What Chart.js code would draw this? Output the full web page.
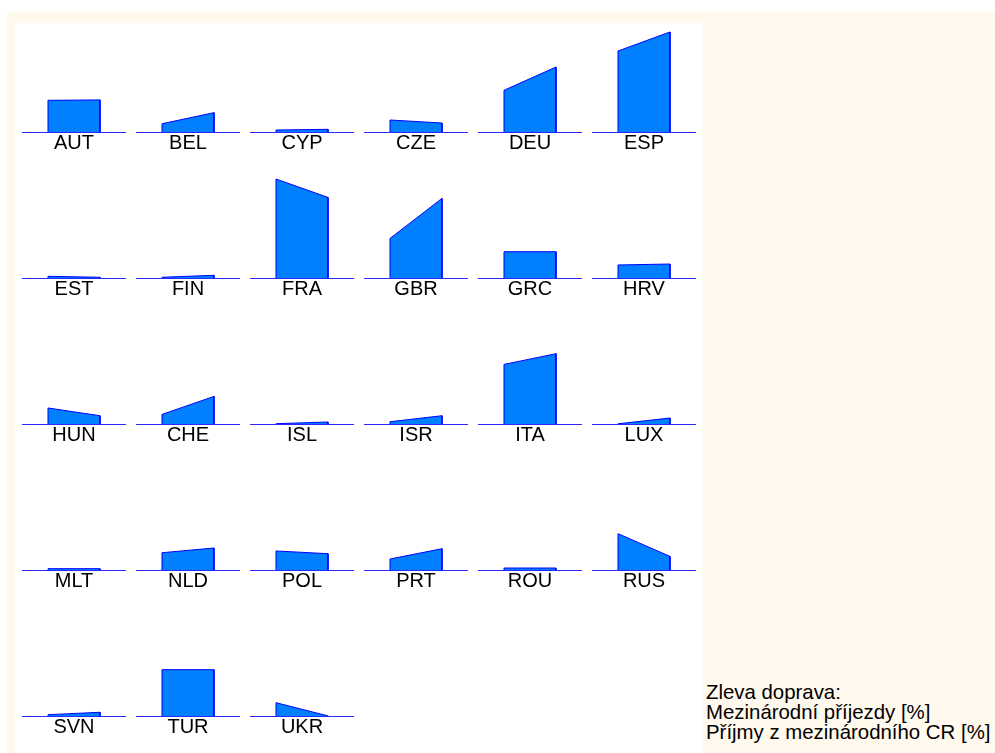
<!DOCTYPE html>
<html>
<head>
<meta charset="utf-8">
<script src="https://cdn.jsdelivr.net/npm/chart.js@4.4.1/dist/chart.umd.min.js"></script>
<style>
  body { margin: 0; background: #fff; width: 995px; height: 753px; overflow: hidden; position: relative; font-family: "Liberation Sans", Arial, sans-serif; }
  #frame { position: absolute; left: 7px; top: 12px; right: 0; bottom: 0; background: #fff9ee; }
  #panel { position: absolute; left: 15px; top: 23px; width: 688px; bottom: 0; background: #fff; }
  .cell { position: absolute; }
  #note { position: absolute; left: 706px; top: 683px; font-size: 20.4px; line-height: 19.8px; color: #000; white-space: nowrap; }
</style>
</head>
<body>
<div id="frame"></div>
<div id="panel"></div>
<div id="note">Zleva doprava:<br>Mezinárodní příjezdy [%]<br>Příjmy z mezinárodního CR [%]</div>
<script>
// country codes, in reading order (6 per row)
var countries = ["AUT","BEL","CYP","CZE","DEU","ESP",
                 "EST","FIN","FRA","GBR","GRC","HRV",
                 "HUN","CHE","ISL","ISR","ITA","LUX",
                 "MLT","NLD","POL","PRT","ROU","RUS",
                 "SVN","TUR","UKR"];
// share of international arrivals [%] (left edge)
var arrivals = [5.28, 1.38, 0.33, 2.0, 6.95, 13.5,
                0.28, 0.12, 16.5, 6.6, 4.38, 2.17,
                2.67, 1.6, 0.05, 0.38, 9.93, 0.03,
                0.22, 2.88, 3.17, 1.83, 0.33, 6.05,
                0.22, 7.72, 2.22];
// share of international tourism receipts [%] (right edge)
var receipts = [5.35, 3.22, 0.45, 1.5, 10.83, 16.67,
                0.12, 0.45, 13.43, 13.27, 4.38, 2.33,
                1.38, 4.6, 0.33, 1.38, 11.72, 1.0,
                0.22, 3.67, 2.72, 3.55, 0.33, 2.27,
                0.62, 7.72, 0.02];
var yMax = 20;

var perRow = 6;
var cellW = 104, plotH = 120, padTop = 2, titleH = 24;

for (var i = 0; i < countries.length; i++) {
    var col = i % perRow, row = Math.floor(i / perRow);
    var baseline = 132 + 146 * row;
    var canvas = document.createElement("canvas");
    canvas.className = "cell";
    canvas.width = cellW;
    canvas.height = padTop + plotH + titleH;
    canvas.style.left = (22 + 114 * col) + "px";
    canvas.style.top = (baseline - plotH - padTop) + "px";
    document.body.appendChild(canvas);

    new Chart(canvas, {
        type: 'line',
        data: {
            datasets: [{
                data: [
                    {x: 0, y: 0},
                    {x: 0, y: arrivals[i]},
                    {x: 1, y: receipts[i]},
                    {x: 1, y: 0}
                ],
                fill: 'origin',
                backgroundColor: '#0080ff',
                borderColor: '#0000ff',
                borderWidth: 1,
                pointRadius: 0,
                tension: 0
            }]
        },
        options: {
            responsive: false,
            maintainAspectRatio: false,
            animation: false,
            events: [],
            layout: { padding: { top: padTop, left: 0, right: 0, bottom: 0 }, autoPadding: false },
            plugins: { legend: { display: false }, tooltip: { enabled: false } },
            scales: {
                x: {
                    type: 'linear',
                    min: -0.5,
                    max: 1.5,
                    grid: { display: false, drawTicks: false, tickLength: 0 },
                    ticks: { display: false },
                    border: { display: true, color: '#2a2aff', width: 1 },
                    title: {
                        display: true,
                        text: countries[i],
                        color: '#000',
                        font: { family: '"Liberation Sans", Arial, sans-serif', size: 20, lineHeight: 0.9 },
                        padding: { top: 2, bottom: 4 }
                    }
                },
                y: {
                    display: false,
                    min: 0,
                    max: yMax
                }
            }
        }
    });
}
</script>
</body>
</html>
